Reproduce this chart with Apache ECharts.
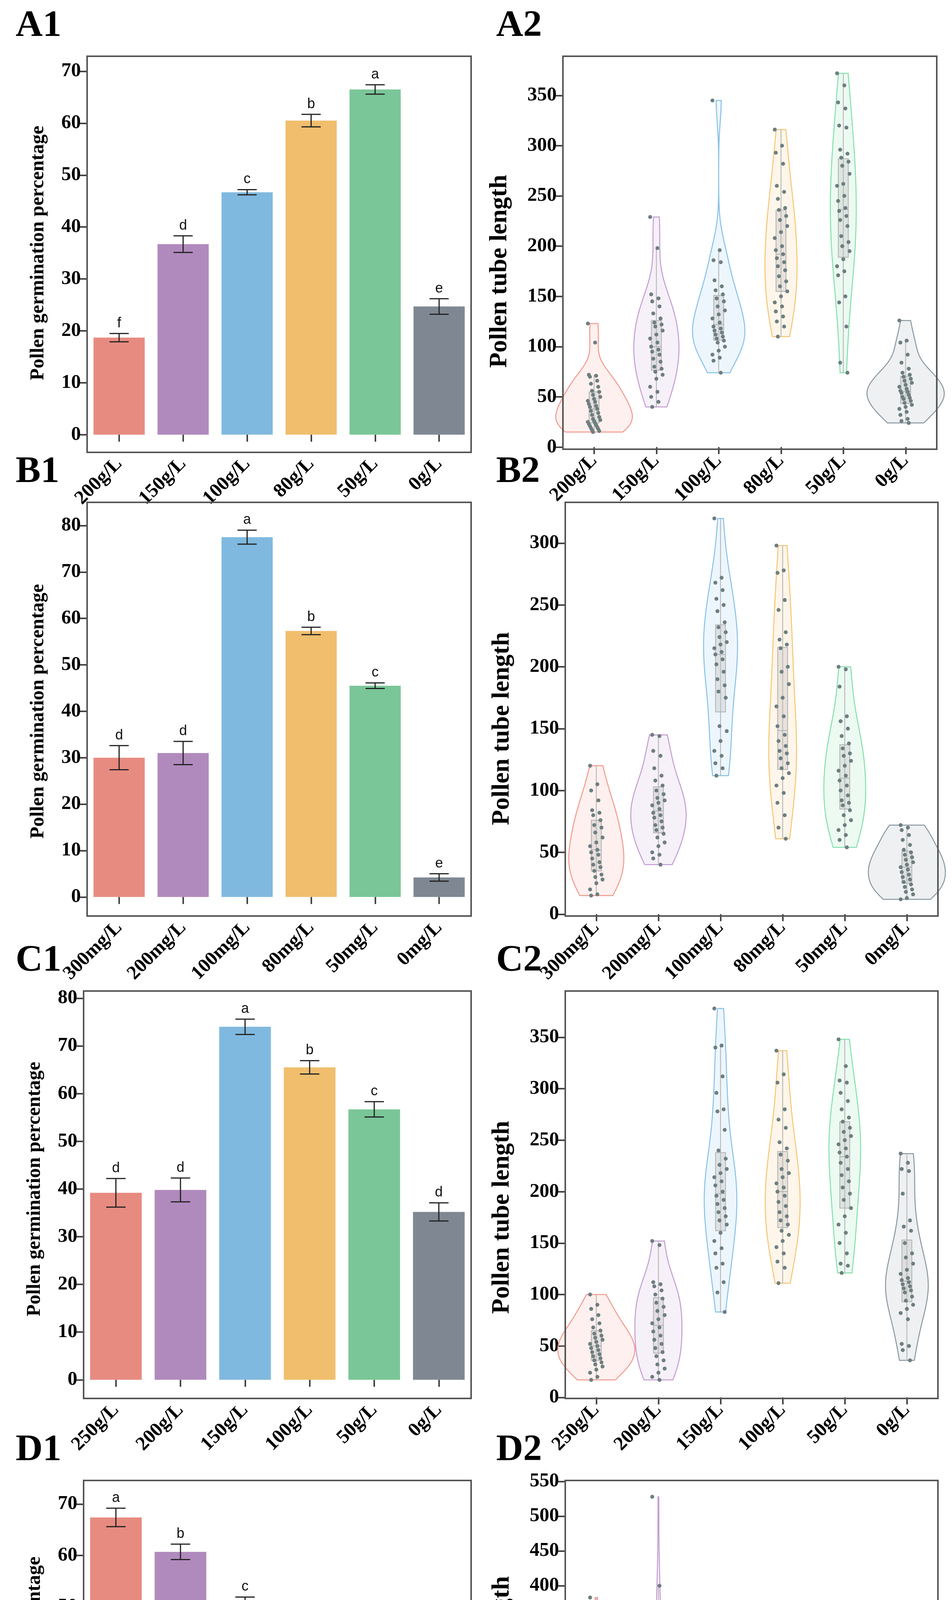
<!DOCTYPE html>
<html><head><meta charset="utf-8">
<script src="https://cdn.jsdelivr.net/npm/echarts@6/dist/echarts.min.js"></script>
<style>html,body{margin:0;background:#fff}#c{width:2437px;height:4980px}</style>
</head><body><div id="c"></div>
<script>
// ---- data ----
const catsA = ['200g/L','150g/L','100g/L','80g/L','50g/L','0g/L'];
const catsB = ['300mg/L','200mg/L','100mg/L','80mg/L','50mg/L','0mg/L'];
const catsC = ['250g/L','200g/L','150g/L','100g/L','50g/L','0g/L'];
const catsD = ['5.4','5.8','6.2','7.5','8.4','9.6'];

const germA = [18.7, 36.7, 46.7, 60.5, 66.5, 24.7];
const errA  = [0.8, 1.6, 0.5, 1.2, 0.9, 1.5];
const letA  = ['f','d','c','b','a','e'];
const germB = [30.0, 31.0, 77.5, 57.3, 45.5, 4.2];
const errB  = [2.6, 2.5, 1.5, 0.8, 0.6, 0.8];
const letB  = ['d','d','a','b','c','e'];
const germC = [39.2, 39.8, 74.0, 65.5, 56.7, 35.2];
const errC  = [3.0, 2.5, 1.6, 1.4, 1.6, 1.9];
const letC  = ['d','d','a','b','c','d'];
const germD = [67.4, 60.7, 50.7, 41.4, 2.2, 0.9];
const errD  = [1.8, 1.5, 1.2, 1.4, 0.4, 0.5];
const letD  = ['a','b','c','d','e','e'];

const tubeA = [
  [123,104,72,71,70,66,63,60,56,55,52,50,48,46,45,43,41,40,38,36,34,32,30,28,27,26,25,24,23,22,21,20,19,18,17,16,15],
  [229,198,152,148,145,140,133,128,124,122,120,116,112,108,104,100,97,95,92,88,85,80,78,75,72,68,60,55,50,45,40],
  [345,196,186,184,166,160,156,152,148,145,140,136,132,128,124,120,118,116,114,112,110,108,106,104,100,96,92,89,86,74],
  [316,300,293,282,260,254,247,238,236,230,226,220,214,208,200,196,192,188,184,180,176,170,165,160,155,150,144,140,135,130,125,120,110],
  [372,360,343,337,320,318,296,292,288,284,280,272,262,260,250,245,238,235,230,226,220,210,204,200,195,187,180,175,171,150,144,120,84,74],
  [126,106,104,92,84,78,74,72,70,68,66,64,62,60,58,56,55,54,52,50,49,48,46,44,42,40,38,35,32,28,26,24]
];
const tubeB = [
  [120,105,100,92,84,82,80,76,72,70,66,62,58,55,52,50,48,45,42,40,38,35,32,30,28,25,20,16,15],
  [145,144,132,128,118,112,108,104,100,97,94,92,90,88,85,82,80,78,75,72,70,68,65,62,58,55,50,48,45,40],
  [320,272,268,262,255,250,245,236,232,228,224,220,218,215,212,210,206,202,196,190,185,180,175,152,148,140,132,128,122,118,112],
  [298,278,276,254,246,228,222,218,215,200,196,186,175,168,160,152,145,140,136,132,130,126,122,118,114,110,104,98,90,80,70,61],
  [200,198,184,160,156,150,144,138,134,130,128,124,120,116,112,108,104,100,96,92,90,88,84,80,76,72,68,64,60,54],
  [72,70,68,64,60,56,52,50,48,46,44,42,40,38,36,34,32,30,28,26,24,22,20,18,16,13,12]
];
const tubeC = [
  [100,90,86,80,76,72,68,65,62,60,58,56,54,52,50,48,46,44,42,40,38,36,34,32,30,27,24,20,17],
  [152,148,112,110,108,104,100,96,92,88,84,80,76,72,68,64,60,56,52,48,44,40,36,32,28,24,20,17],
  [378,342,340,312,296,280,278,260,240,232,226,222,218,214,210,206,200,196,192,188,184,180,176,172,168,160,152,145,140,130,126,112,102,83],
  [337,314,306,280,270,262,248,242,236,230,222,218,214,208,204,200,196,190,186,180,176,172,168,162,158,152,146,140,132,126,111],
  [348,322,308,306,296,288,280,272,268,262,258,254,250,246,242,238,234,228,222,216,210,204,198,192,184,176,168,160,150,140,130,128,121],
  [237,228,222,220,198,172,166,162,150,140,136,130,124,120,116,114,112,110,108,106,104,102,98,94,90,86,82,76,52,50,46,36]
];
const tubeD = [
  [383,338,334,320,312,300,290,282,278,272,268,264,258,252,246,240,234,228,222,216,210,204,198,190,182,164,148,130,128,102,74],
  [528,400,372,360,346,340,335,320,300,290,285,270,262,252,246,236,228,220,214,206,200,196,190,180,170,164,150,140,138,126,108,104],
  [297,250,236,230,222,216,210,204,198,192,186,180,176,170,166,160,156,152,148,144,140,136,132,128,124,120,116,110,100,92,86,64,44],
  [91,88,84,80,76,72,68,65,62,60,58,56,54,52,50,48,46,44,42,40,38,35,32,28,24,21],
  [74,72,64,62,48,30,0,0,0,0,0,0,0,0,0,0,0,0,0,0,0,0,0,0,0,0,0,0],
  [52,24,10,0,0,0,0,0,0,0,0,0,0,0,0,0,0,0,0,0,0,0,0,0,0,0,0,0]
];

const fills = ['#E78B81','#B08ABD','#80B9DF','#F0BE6D','#7AC698','#7F8892'];
const strokes = ['#F4978C','#C39BD3','#85C1E9','#F8C471','#82E0AA','#8A97A3'];

// ---- layout ----
const panels = [
  {tag:'A1', kind:'bar', cats:catsA, mean:germA, err:errA, lets:letA, l:223, r:1206, t:144, b:1158, lo:-3.4, hi:72.9, max:70, step:10},
  {tag:'A2', kind:'vio', cats:catsA, vals:tubeA, l:1441, r:2398, t:144, b:1150, lo:-2.1, hi:389, max:350, step:50},
  {tag:'B1', kind:'bar', cats:catsB, mean:germB, err:errB, lets:letB, l:223, r:1206, t:1286, b:2345, lo:-4.1, hi:85, max:80, step:10},
  {tag:'B2', kind:'vio', cats:catsB, vals:tubeB, l:1447, r:2401, t:1286, b:2345, lo:-1.5, hi:333, max:300, step:50},
  {tag:'C1', kind:'bar', cats:catsC, mean:germC, err:errC, lets:letC, l:214, r:1206, t:2537, b:3580, lo:-3.9, hi:81.5, max:80, step:10},
  {tag:'C2', kind:'vio', cats:catsC, vals:tubeC, l:1447, r:2401, t:2537, b:3580, lo:-1, hi:395, max:350, step:50},
  {tag:'D1', kind:'bar', cats:catsD, mean:germD, err:errD, lets:letD, l:214, r:1206, t:3790, b:4817, lo:-3.5, hi:74.6, max:70, step:10},
  {tag:'D2', kind:'vio', cats:catsD, vals:tubeD, l:1447, r:2401, t:3790, b:4817, lo:-25.6, hi:551.4, max:550, step:50}
];

const serif = '"Liberation Serif", "DejaVu Serif", serif';
const grids = [], xAxes = [], yAxes = [], series = [], graphics = [];

function quant(s, p) { const i = (s.length - 1) * p, a = Math.floor(i), f = i - a; return s[a] + (s[Math.min(a + 1, s.length - 1)] - s[a]) * f; }
function kde(v, bw, y) { let s = 0; for (const x of v) { const z = (y - x) / bw; s += Math.exp(-0.5 * z * z); } return s / (v.length * bw * Math.sqrt(2 * Math.PI)); }

panels.forEach((p, gi) => {
  const H = p.b - p.t;
  const top = p.t + (p.hi - p.max) / (p.hi - p.lo) * H;
  const bottomGap = (0 - p.lo) / (p.hi - p.lo) * H;
  const band = (p.r - p.l) / p.cats.length;
  grids.push({left: p.l, width: p.r - p.l, top: top, height: p.b - bottomGap - top});
  graphics.push({type:'rect', shape:{x:p.l, y:p.t, width:p.r - p.l, height:H}, style:{fill:null, stroke:'#555', lineWidth:4}, z:10});
  graphics.push({type:'text', x:(p.kind === 'bar' ? 40 : 1270), y:p.t - 125, style:{text:p.tag, font:'bold 96px ' + serif, fill:'#000'}});
  xAxes.push({type:'category', gridIndex:gi, data:p.cats, offset:bottomGap,
    axisLine:{show:false}, axisTick:{show:true, length:18, alignWithLabel:true, lineStyle:{color:'#444', width:4}},
    axisLabel:{rotate:45, margin:22, fontFamily:serif, fontWeight:'bold', fontSize:50, color:'#000'}});
  yAxes.push({type:'value', gridIndex:gi, min:0, max:p.max, interval:p.step, splitLine:{show:false},
    axisLine:{show:false}, axisTick:{show:true, length:18, lineStyle:{color:'#444', width:4}},
    axisLabel:{margin:16, fontFamily:serif, fontWeight:'bold', fontSize:50, color:'#000'},
    name: p.kind === 'bar' ? 'Pollen germination percentage' : 'Pollen tube length',
    nameLocation:'middle', nameRotate:90, nameGap: p.kind === 'bar' ? 100 : 130,
    nameTextStyle:{fontFamily:serif, fontWeight:'bold', fontSize: p.kind === 'bar' ? 50 : 64, color:'#000'}});

  if (p.kind === 'bar') {
    series.push({type:'bar', xAxisIndex:gi, yAxisIndex:gi, barCategoryGap:'20%',
      data:p.mean.map((m, i) => ({value:m, itemStyle:{color:fills[i]}}))});
    series.push({type:'custom', xAxisIndex:gi, yAxisIndex:gi, clip:false, z:5,
      data:p.mean.map((m, i) => [i, m, p.err[i]]),
      renderItem:(params, api) => {
        const i = api.value(0), m = api.value(1), e = api.value(2);
        const hi = api.coord([i, m + e]), lo = api.coord([i, m - e]);
        const cw = band * 0.15;
        const ls = {stroke:'#222', lineWidth:3};
        return {type:'group', children:[
          {type:'line', shape:{x1:hi[0], y1:hi[1], x2:lo[0], y2:lo[1]}, style:ls},
          {type:'line', shape:{x1:hi[0]-cw, y1:hi[1], x2:hi[0]+cw, y2:hi[1]}, style:ls},
          {type:'line', shape:{x1:lo[0]-cw, y1:lo[1], x2:lo[0]+cw, y2:lo[1]}, style:ls},
          {type:'text', x:hi[0], y:hi[1] - 8, style:{text:p.lets[i], font:'36px "Liberation Sans", Arial, sans-serif', fill:'#111', align:'center', verticalAlign:'bottom'}}
        ]};
      }});
  } else {
    // densities for area-scaled violins
    const dens = p.vals.map(v => {
      const s = v.slice().sort((a, b) => a - b), n = s.length;
      const mean = s.reduce((a, b) => a + b, 0) / n;
      const sd = Math.sqrt(s.reduce((a, b) => a + (b - mean) ** 2, 0) / (n - 1));
      const iqr = quant(s, 0.75) - quant(s, 0.25);
      let bw = 1.3 * 0.9 * Math.min(sd, iqr > 0 ? iqr / 1.34 : sd) * Math.pow(n, -0.2);
      if (!(bw > 0)) bw = 1;
      const ys = [], ds = [];
      for (let k = 0; k <= 80; k++) { const y = s[0] + (s[n - 1] - s[0]) * k / 80; ys.push(y); ds.push(kde(s, bw, y)); }
      return {s, ys, ds};
    });
    const dmax = Math.max(...dens.map(d => Math.max(...d.ds)));
    series.push({type:'custom', xAxisIndex:gi, yAxisIndex:gi, clip:false,
      data:p.vals.map((v, i) => [i, v[0]]),
      renderItem:(params, api) => {
        const i = api.value(0), d = dens[i];
        const right = [], left = [];
        d.ys.forEach((y, k) => {
          const c = api.coord([i, y]), w = Math.pow(d.ds[k] / dmax, 0.85) * band * 0.62;
          right.push([c[0] + w, c[1]]); left.unshift([c[0] - w, c[1]]);
        });
        const kids = [{type:'polygon', shape:{points:right.concat(left)},
          style:{fill:echarts.color.modifyAlpha(strokes[i], 0.15), stroke:strokes[i], lineWidth:2.5}}];
        const s = d.s, q1 = quant(s, 0.25), q3 = quant(s, 0.75), md = quant(s, 0.5), iq = q3 - q1;
        const wl = s.find(x => x >= q1 - 1.5 * iq), wh = s.slice().reverse().find(x => x <= q3 + 1.5 * iq);
        const bw = band * 0.08, cx = api.coord([i, 0])[0];
        const boxStyle = {stroke:'#B0B0B0', lineWidth:2};
        kids.push({type:'line', shape:{x1:cx, y1:api.coord([i, wl])[1], x2:cx, y2:api.coord([i, wh])[1]}, style:boxStyle});
        const yq3 = api.coord([i, q3])[1], yq1 = api.coord([i, q1])[1];
        kids.push({type:'rect', shape:{x:cx - bw, y:yq3, width:2 * bw, height:Math.max(yq1 - yq3, 3)}, style:{fill:'rgba(190,190,190,0.35)', stroke:'#B0B0B0', lineWidth:2}});
        kids.push({type:'line', shape:{x1:cx - bw, y1:api.coord([i, md])[1], x2:cx + bw, y2:api.coord([i, md])[1]}, style:boxStyle});
        p.vals[i].forEach((v, k) => {
          const c = api.coord([i, v]);
          const off = (((k * 7) % 13) - 6) / 6 * band * 0.1;
          kids.push({type:'circle', shape:{cx:c[0] + off, cy:c[1], r:5}, style:{fill:'#6E7F80'}});
        });
        return {type:'group', children:kids};
      }});
  }
});

const chart = echarts.init(document.getElementById('c'));
chart.setOption({animation:false, grid:grids, xAxis:xAxes, yAxis:yAxes, series:series, graphic:graphics});
</script></body></html>
